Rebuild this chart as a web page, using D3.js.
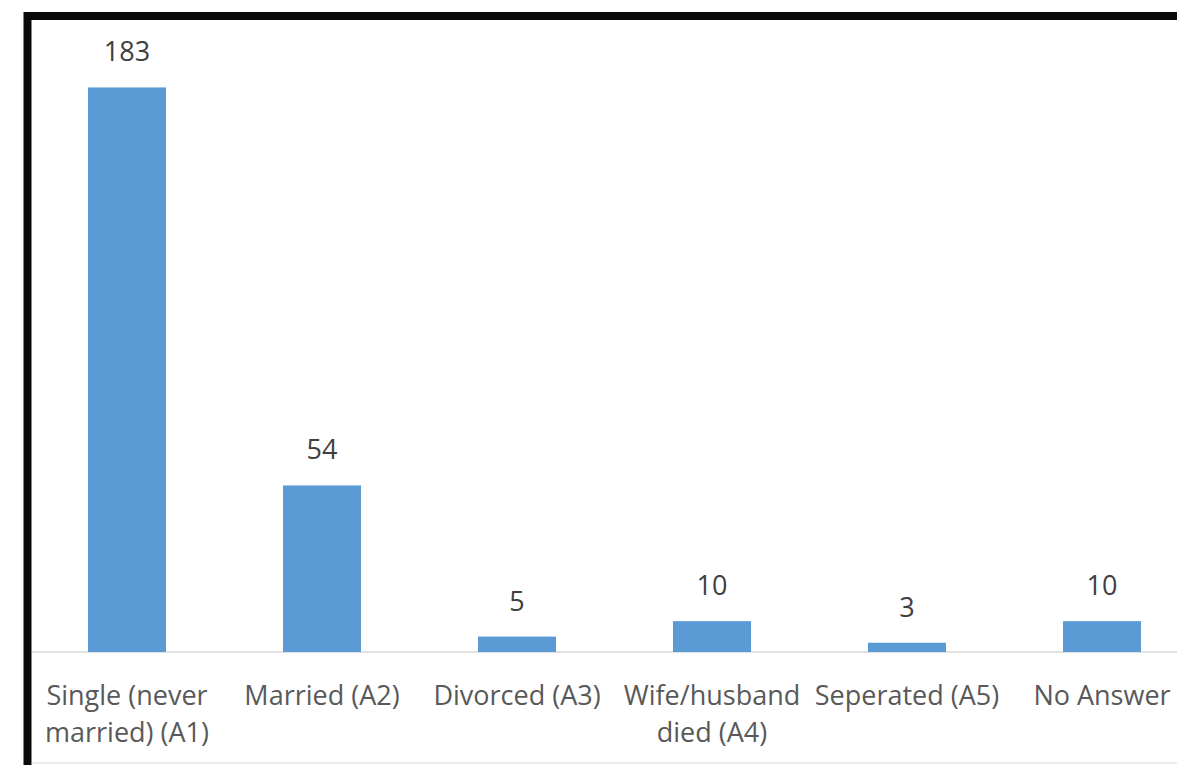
<!DOCTYPE html>
<html>
<head>
<meta charset="utf-8">
<script src="https://cdn.jsdelivr.net/npm/d3@7"></script>
<style>
  html, body { margin: 0; padding: 0; background: #fff; }
  svg { display: block; }
</style>
</head>
<body>
<svg id="chart" width="1177" height="765"></svg>
<script>
// Marital status of respondents
const categories = [
  "Single (never married) (A1)",
  "Married (A2)",
  "Divorced (A3)",
  "Wife/husband died (A4)",
  "Seperated (A5)",
  "No Answer"
];
// Wrapped category label lines, as printed under each bar
const categoryLines = [
  ["Single (never", "married) (A1)"],
  ["Married (A2)"],
  ["Divorced (A3)"],
  ["Wife/husband", "died (A4)"],
  ["Seperated (A5)"],
  ["No Answer"]
];
const counts = [183, 54, 5, 10, 3, 10];

const W = 1177, H = 765;
const svg = d3.select("#chart");

const font = "'Open Sans', 'Liberation Sans', sans-serif";
const textColor = "#595959";

svg.append("rect").attr("x", 0).attr("y", 0).attr("width", W).attr("height", H).attr("fill", "#fff");

const x = d3.scaleBand()
  .domain(categories)
  .range([29.5, 1199.5])
  .paddingInner(0.6)
  .paddingOuter(0.3);

const y = d3.scaleLinear()
  .domain([0, 200])
  .range([652, 35]);

// Category axis (no ticks); its baseline is drawn as a faint rule inside the frame
const gAxis = svg.append("g")
  .attr("transform", `translate(0,${y(0)})`)
  .call(d3.axisBottom(x).tickSize(0).tickFormat(""));
gAxis.select(".domain").remove();
gAxis.append("line")
  .attr("x1", 32).attr("x2", W)
  .attr("stroke", "#d9d9d9").attr("stroke-width", 1.5);

// Bars
svg.append("g").selectAll("rect")
  .data(categories)
  .join("rect")
  .attr("x", d => x(d))
  .attr("width", x.bandwidth())
  .attr("y", (d, i) => y(counts[i]))
  .attr("height", (d, i) => y(0) - y(counts[i]))
  .attr("fill", "#5b9bd5");

// Category labels
svg.append("g")
  .attr("font-family", font)
  .attr("font-size", 27)
  .attr("fill", textColor)
  .attr("text-anchor", "middle")
  .selectAll("text")
  .data(categories)
  .join("text")
  .attr("x", d => x(d) + x.bandwidth() / 2)
  .attr("y", 705)
  .each(function (d, i) {
    d3.select(this).selectAll("tspan")
      .data(categoryLines[i])
      .join("tspan")
      .attr("x", x(d) + x.bandwidth() / 2)
      .attr("dy", (t, j) => j === 0 ? 0 : 37)
      .text(t => t);
  });

// Value labels above bars
svg.append("g")
  .attr("font-family", font)
  .attr("font-size", 27)
  .attr("fill", "#404040")
  .attr("text-anchor", "middle")
  .selectAll("text")
  .data(categories)
  .join("text")
  .attr("x", d => x(d) + x.bandwidth() / 2)
  .attr("y", (d, i) => y(counts[i]) - 26)
  .text((d, i) => counts[i]);

// Frame: heavy black edge on top and left, faint grey bottom rule
svg.append("line").attr("x1", 32).attr("x2", W).attr("y1", 763).attr("y2", 763)
  .attr("stroke", "#e4e4e4").attr("stroke-width", 1.5);
svg.append("path")
  .attr("d", `M27.5,${H}V16H${W}`)
  .attr("fill", "none")
  .attr("stroke", "#0a0a0a")
  .attr("stroke-width", 8)
  .attr("stroke-linejoin", "miter");
</script>
</body>
</html>
